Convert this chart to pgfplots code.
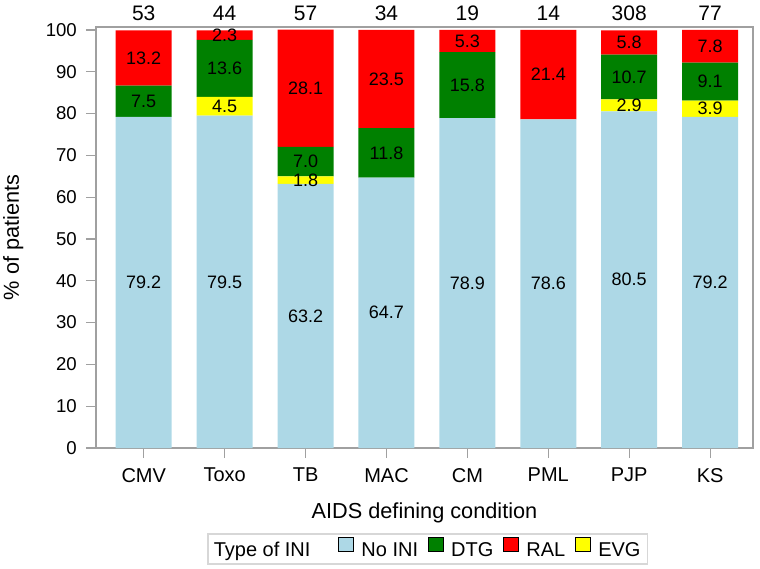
\documentclass[border=0pt]{standalone}
\usepackage{fontspec}
\setmainfont{Liberation Sans}
\usepackage{pgfplots}
\pgfplotsset{compat=1.18}
\definecolor{noini}{RGB}{173,216,230}
\definecolor{dtg}{RGB}{0,128,0}
\definecolor{ral}{RGB}{255,0,0}
\definecolor{evg}{RGB}{255,255,0}
\definecolor{framegray}{RGB}{160,160,160}
\definecolor{legendgray}{RGB}{215,215,215}
\newcommand{\barfont}{\fontsize{18}{21}\selectfont}
\newcommand{\yfont}{\fontsize{18.6}{22}\selectfont}
\newcommand{\catfont}{\fontsize{20}{24}\selectfont}
\newcommand{\countfont}{\fontsize{21}{25}\selectfont}
\newcommand{\labfont}{\fontsize{21.7}{26}\selectfont}
\newcommand{\legfont}{\fontsize{20}{24}\selectfont}
\pgfplotsset{
  /pgf/number format/assume math mode=true,
  frame/.style={scale only axis, width=657pt, height=421pt,
    xmin=-0.59, xmax=7.53, ymin=0, ymax=100.7},
  seglabels/.style={draw=none, forget plot, nodes near coords, point meta=explicit symbolic,
    nodes near coords align={center},
    every node near coord/.append style={font=\barfont, text=black, inner sep=0pt}},
  legsq/.style={legend image code/.code={\draw[fill=#1,draw=black,line width=1pt] (0pt,-1pt) rectangle (15pt,13pt);}},
}
\begin{document}
\barfont
\begin{tikzpicture}
\useasboundingbox (-96pt,-120pt) rectangle (664pt,448pt);
\begin{axis}[
  frame, ybar stacked, bar width=56pt,
  xtick={0,...,7}, xticklabels={CMV,Toxo,TB,MAC,CM,PML,PJP,KS},
  ytick={0,10,...,100},
  axis line style={framegray, line width=1.2pt},
  tick style={framegray, line width=1.2pt},
  major tick length=10pt, tick align=outside,
  xtick pos=bottom, ytick pos=left,
  yticklabel style={font=\yfont, text=black, xshift=-3pt},
  xticklabel style={font=\catfont, text=black, yshift=-4pt},
  xlabel={AIDS defining condition}, ylabel={\% of patients},
  every axis x label/.style={at={(axis description cs:0.5,-0.155)}, anchor=center, font=\labfont},
  every axis y label/.style={at={(axis description cs:-0.126,0.5)}, rotate=90, anchor=center, font=\labfont},
  legend columns=-1,
  legend style={at={(0.169,-0.24)}, anchor=west, draw=legendgray, line width=1.5pt,
    font=\legfont, inner xsep=5pt, inner ysep=3pt,
    /tikz/every odd column/.append style={column sep=5pt},
    /tikz/every even column/.append style={column sep=8pt}},
]
% stack order: No INI, EVG, DTG, RAL
\addplot[fill=noini, draw=none, forget plot] coordinates
  {(0,79.2) (1,79.5) (2,63.2) (3,64.7) (4,78.9) (5,78.6) (6,80.5) (7,79.2)};
\addplot[fill=evg, draw=none, forget plot] coordinates
  {(0,0) (1,4.5) (2,1.8) (3,0) (4,0) (5,0) (6,2.9) (7,3.9)};
\addplot[fill=dtg, draw=none, forget plot] coordinates
  {(0,7.5) (1,13.6) (2,7.0) (3,11.8) (4,15.8) (5,0) (6,10.7) (7,9.1)};
\addplot[fill=ral, draw=none, forget plot] coordinates
  {(0,13.2) (1,2.3) (2,28.1) (3,23.5) (4,5.3) (5,21.4) (6,5.8) (7,7.8)};
\addlegendimage{empty legend}
\addlegendentry{\hspace*{-6pt}Type of INI\kern18pt}
\addlegendimage{legsq=noini}
\addlegendentry{No INI}
\addlegendimage{legsq=dtg}
\addlegendentry{DTG}
\addlegendimage{legsq=ral}
\addlegendentry{RAL}
\addlegendimage{legsq=evg}
\addlegendentry{EVG}
\end{axis}
% segment values, set at the middle of each segment
\begin{axis}[frame, hide axis, clip=false]
\addplot[seglabels] coordinates
  {(0,39.6)[79.2] (1,39.75)[79.5] (2,31.6)[63.2] (3,32.35)[64.7]
   (4,39.45)[78.9] (5,39.3)[78.6] (6,40.25)[80.5] (7,39.6)[79.2]};
\addplot[seglabels] coordinates
  {(1,81.75)[4.5] (2,64.1)[1.8] (6,81.95)[2.9] (7,81.15)[3.9]};
\addplot[seglabels] coordinates
  {(0,82.95)[7.5] (1,90.8)[13.6] (2,68.5)[7.0] (3,70.6)[11.8]
   (4,86.8)[15.8] (6,88.75)[10.7] (7,87.65)[9.1]};
\addplot[seglabels] coordinates
  {(0,93.3)[13.2] (1,98.75)[2.3] (2,86.05)[28.1] (3,88.25)[23.5]
   (4,97.35)[5.3] (5,89.3)[21.4] (6,97.0)[5.8] (7,96.1)[7.8]};
\end{axis}
% numbers of patients above the bars
\begin{axis}[
  frame, axis x line*=top, hide y axis,
  x axis line style={draw=none}, major tick length=0pt,
  xtick={0,...,7}, xticklabels={53,44,57,34,19,14,308,77},
  xticklabel style={font=\countfont, text=black},
]
\end{axis}
\end{tikzpicture}
\end{document}
